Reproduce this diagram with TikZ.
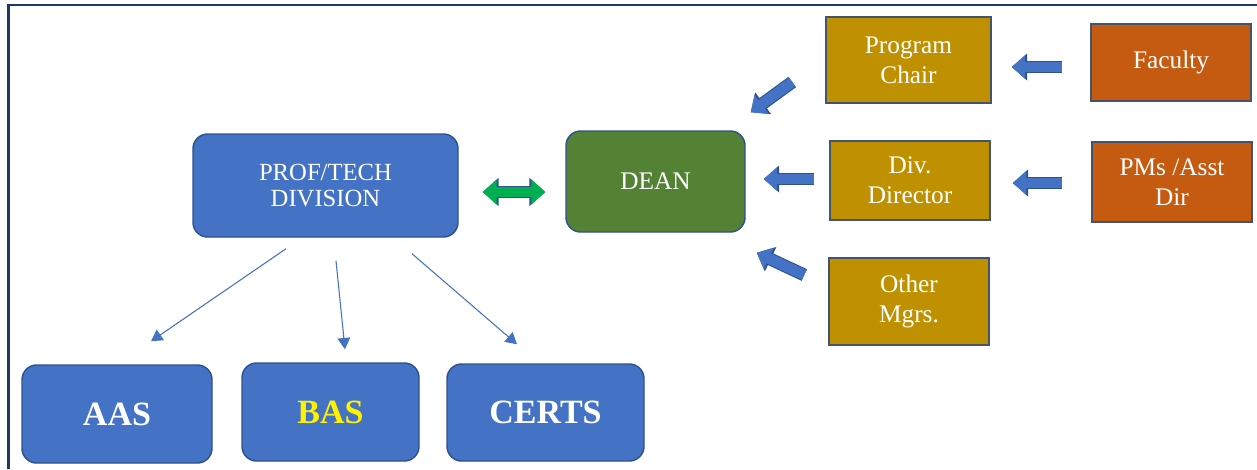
\documentclass[tikz,border=0pt]{standalone}
\usepackage{fontspec}
\setmainfont{Liberation Serif}
\usetikzlibrary{arrows.meta,calc}
\definecolor{boxblue}{HTML}{4472C4}
\definecolor{edgeblue}{HTML}{2F528F}
\definecolor{deangreen}{HTML}{548235}
\definecolor{mgrgold}{HTML}{BF9000}
\definecolor{staffrust}{HTML}{C55A11}
\definecolor{boxedge}{HTML}{44546A}
\definecolor{linkgreen}{HTML}{00B050}
\definecolor{framenavy}{HTML}{1F3864}
\begin{document}
\begin{tikzpicture}[x=0.75pt,y=-0.75pt,
  unit/.style={draw=edgeblue,line width=1.1pt,rounded corners=11pt,text=white,align=center,inner sep=0pt},
  office/.style={draw=boxedge,line width=1.1pt,text=white,align=center,inner sep=0pt,
    minimum width=120pt,font=\fontsize{19}{22.5}\selectfont},
  program/.style={unit,fill=boxblue,minimum height=73.5pt,font=\fontsize{25.5}{28}\selectfont\bfseries},
  thinarrow/.style={draw=boxblue,line width=0.8pt,-{Triangle[width=9.5pt,length=8.5pt]}},
  blockarrow/.style={preaction={draw=edgeblue,line width=9.6pt,-{Triangle[width=19.5pt,length=11.5pt]}},
    draw=boxblue,line width=8pt,-{Triangle[width=17pt,length=10pt]}}]
\useasboundingbox (0,0) rectangle (1257,469);
\draw[framenavy,line width=1.6pt] (8.5,469) -- (8.5,5) -- (1257,5);

\node[unit,fill=boxblue,minimum width=198.75pt,minimum height=77.25pt,font=\fontsize{18.5}{20}\selectfont] (prof) at (325.5,185.5) {PROF/TECH\\DIVISION};
\node[unit,fill=deangreen,minimum width=134.25pt,minimum height=75.75pt,font=\fontsize{19}{22}\selectfont] (dean) at (655.5,181.5) {DEAN};

\node[office,fill=mgrgold,minimum width=123.75pt,minimum height=64.5pt] (chair) at (908.5,60) {Program\\Chair};
\node[office,fill=mgrgold,minimum height=59.25pt] (divdir) at (910,180.5) {Div.\\Director};
\node[office,fill=mgrgold,minimum height=65.25pt] (others) at (909,301.5) {Other\\Mgrs.};
\node[office,fill=staffrust,minimum height=57.75pt] (faculty) at (1171,62.5) {Faculty};
\node[office,fill=staffrust,minimum height=60pt] (pms) at (1172,182) {PMs /Asst\\Dir};

\node[program,minimum width=142.5pt] (aas) at (117,414) {AAS};
\node[program,minimum width=132.75pt,text=yellow] (bas) at (330.5,412) {BAS};
\node[program,minimum width=147.75pt,minimum height=72.75pt] (certs) at (545.5,412.5) {CERTS};

\draw[thinarrow] ($(prof.south)+(-39.5,11)$) -- ($(aas.north)+(34,-23)$);
\draw[thinarrow] ($(prof.south)+(10.5,23)$) -- ($(bas.north)+(14.5,-13)$);
\draw[thinarrow] ($(prof.south)+(86.5,16)$) -- ($(certs.north)+(-28.5,-19)$);

\draw[preaction={draw=edgeblue,line width=9pt,{Triangle[width=20.5pt,length=12pt]}-{Triangle[width=20.5pt,length=12pt]}},
  draw=linkgreen,line width=7.5pt,{Triangle[width=18.5pt,length=10.5pt]}-{Triangle[width=18.5pt,length=10.5pt]}]
  ($(prof.east)+(24,6.5)$) -- ($(dean.west)+(-20,10.5)$);

\draw[blockarrow] ($(faculty.west)+(-28,4.5)$) -- ($(chair.east)+(20,7)$);
\draw[blockarrow] ($(pms.west)+(-29,1)$) -- ($(divdir.east)+(22,2.5)$);
\draw[blockarrow] ($(divdir.west)+(-15,-1.5)$) -- ($(dean.east)+(18,-2.5)$);
\draw[blockarrow] ($(chair.west)+(-33,22)$) -- ($(dean.north east)+(5,-18)$);
\draw[blockarrow] ($(others.west)+(-24,-26.5)$) -- ($(dean.south east)+(11,20)$);
\end{tikzpicture}
\end{document}
